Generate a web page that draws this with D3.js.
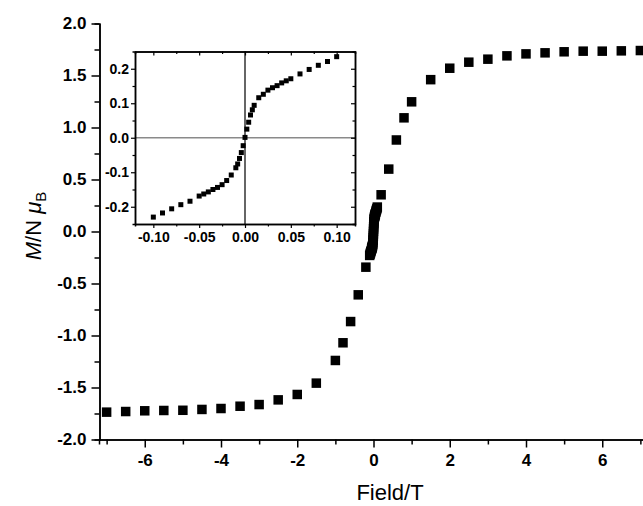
<!DOCTYPE html>
<html>
<head>
<meta charset="utf-8">
<script src="https://cdn.jsdelivr.net/npm/d3@7"></script>
<style>
html,body{margin:0;padding:0;background:#fff;}
svg{display:block;font-family:"Liberation Sans",Arial,sans-serif;}
</style>
</head>
<body>
<svg id="chart" width="643" height="506"></svg>
<script>
// Main plot data (field in T, M/N muB)
const fieldMain = [-7,-6.5,-6,-5.5,-5,-4.5,-4,-3.5,-3,-2.5,-2,-1.5,-1,-0.8,-0.6,-0.4,-0.2,0.2,0.4,0.6,0.8,1,1.5,2,2.5,3,3.5,4,4.5,5,5.5,6,6.5,7];
const momentMain = [-1.737,-1.731,-1.724,-1.721,-1.719,-1.711,-1.702,-1.68,-1.664,-1.619,-1.567,-1.458,-1.24,-1.07,-0.866,-0.609,-0.343,0.353,0.60,0.88,1.093,1.247,1.46,1.57,1.628,1.657,1.689,1.708,1.718,1.728,1.734,1.734,1.737,1.74];
// Low-field data (inset)
const fieldLow = [-0.1,-0.09,-0.08,-0.07,-0.06,-0.05,-0.045,-0.04,-0.035,-0.03,-0.025,-0.02,-0.015,-0.01,-0.008,-0.006,-0.004,-0.002,0,0.002,0.004,0.006,0.008,0.01,0.015,0.02,0.025,0.03,0.035,0.04,0.045,0.05,0.06,0.07,0.08,0.09,0.1];
const momentLow = [-0.230,-0.218,-0.206,-0.194,-0.184,-0.169,-0.163,-0.157,-0.150,-0.144,-0.136,-0.124,-0.108,-0.087,-0.076,-0.060,-0.043,-0.023,0.001,0.025,0.045,0.066,0.081,0.094,0.116,0.126,0.138,0.145,0.151,0.159,0.165,0.171,0.185,0.198,0.210,0.221,0.235];
// Tick values
const xTicksMain = [-6,-4,-2,0,2,4,6];
const xMinorMain = [-7,-5,-3,-1,1,3,5,7];
const yTicksMain = [-2,-1.5,-1,-0.5,0,0.5,1,1.5,2];
const yMinorMain = [-1.75,-1.25,-0.75,-0.25,0.25,0.75,1.25,1.75];
const xTicksInset = [-0.1,-0.05,0,0.05,0.1];
const xMinorInset = [-0.075,-0.025,0.025,0.075];
const yTicksInset = [-0.2,-0.1,0,0.1,0.2];
const yMinorInset = [-0.15,-0.05,0.05,0.15];

const hy = f => (d => f(d).replace("\u2212","-"));

const svg = d3.select("#chart");
const x = d3.scaleLinear().domain([-7.2,7.2]).range([99,648]);
const y = d3.scaleLinear().domain([-2,2]).range([439.5,23.5]);

const allField = fieldMain.concat(fieldLow);
const allMoment = momentMain.concat(momentLow);

// axes
const gx = svg.append("g").attr("transform","translate(0,439.5)");
gx.call(d3.axisBottom(x).tickValues(xTicksMain).tickSize(8).tickSizeOuter(0).tickFormat(hy(d3.format("d"))));
gx.append("g").call(d3.axisBottom(x).tickValues(xMinorMain).tickSize(5).tickFormat(""));
const gy = svg.append("g").attr("transform","translate(99.5,0)");
gy.call(d3.axisLeft(y).tickValues(yTicksMain).tickSize(8).tickSizeOuter(0).tickFormat(hy(d3.format(".1f"))));
gy.append("g").call(d3.axisLeft(y).tickValues(yMinorMain).tickSize(5).tickFormat(""));
[gx,gy].forEach(g=>{
  g.selectAll("path.domain").attr("stroke","#000").attr("stroke-width",1.5);
  g.selectAll(".tick line").attr("stroke","#000").attr("stroke-width",1.5);
  g.selectAll(".tick text").attr("font-size",17).attr("font-weight","bold").attr("fill","#000")
   .attr("font-family","'Liberation Sans',Arial,sans-serif");
});
gx.selectAll(".tick text").attr("dy","0.95em").attr("y",10);
gy.selectAll(".tick text").attr("x",-13);

// main points
const ms = 9.5;
svg.append("g").selectAll("rect").data(d3.range(allField.length)).join("rect")
  .attr("x",i=>x(allField[i])-ms/2).attr("y",i=>y(allMoment[i])-ms/2)
  .attr("width",ms).attr("height",ms).attr("fill","#000");

// labels
svg.append("text").attr("x",390).attr("y",500).attr("text-anchor","middle")
  .attr("font-size",22).attr("fill","#000").text("Field/T");
const yl = svg.append("text").attr("transform","translate(41,226) rotate(-90)")
  .attr("text-anchor","middle").attr("font-size",22).attr("fill","#000");
yl.append("tspan").attr("font-style","italic").text("M");
yl.append("tspan").text("/N ");
yl.append("tspan").attr("font-style","italic").text("\u03BC");
yl.append("tspan").attr("font-size",15).attr("dy",5).text("B");

// inset
const ix = d3.scaleLinear().domain([-0.12,0.12]).range([135,355]);
const iy = d3.scaleLinear().domain([-0.25,0.25]).range([224,51.5]);
const inset = svg.append("g");
inset.append("rect").attr("x",135).attr("y",51.5).attr("width",220).attr("height",172.5)
  .attr("fill","#fff").attr("stroke","none");
inset.append("line").attr("x1",ix(-0.12)).attr("x2",ix(0.12)).attr("y1",iy(0)).attr("y2",iy(0))
  .attr("stroke","#8a8a8a").attr("stroke-width",1.5);
inset.append("line").attr("x1",ix(0)).attr("x2",ix(0)).attr("y1",iy(-0.25)).attr("y2",iy(0.25))
  .attr("stroke","#333").attr("stroke-width",1.5);

const ibx = inset.append("g").attr("transform","translate(0,224)");
ibx.call(d3.axisBottom(ix).tickValues(xTicksInset).tickSize(4).tickSizeOuter(0).tickFormat(hy(d3.format(".2f"))));
ibx.append("g").call(d3.axisBottom(ix).tickValues(xMinorInset).tickSize(2.5).tickFormat(""));
const itx = inset.append("g").attr("transform","translate(0,51.5)");
itx.call(d3.axisBottom(ix).tickValues(xTicksInset).tickSize(4).tickSizeOuter(0).tickFormat(""));
itx.append("g").call(d3.axisBottom(ix).tickValues(xMinorInset).tickSize(2.5).tickFormat(""));
const ily = inset.append("g").attr("transform","translate(135,0)");
ily.call(d3.axisLeft(iy).tickValues(yTicksInset).tickSize(4).tickSizeOuter(0).tickFormat(hy(d3.format(".1f"))));
ily.append("g").call(d3.axisLeft(iy).tickValues(yMinorInset).tickSize(2.5).tickFormat(""));
const iry = inset.append("g").attr("transform","translate(355,0)");
iry.call(d3.axisLeft(iy).tickValues(yTicksInset).tickSize(4).tickSizeOuter(0).tickFormat(""));
iry.append("g").call(d3.axisLeft(iy).tickValues(yMinorInset).tickSize(2.5).tickFormat(""));
[ibx,itx,ily,iry].forEach(g=>{
  g.selectAll("path.domain").attr("stroke","#000").attr("stroke-width",1.5);
  g.selectAll(".tick line").attr("stroke","#000").attr("stroke-width",1.2);
  g.selectAll(".tick text").attr("font-size",14).attr("font-weight","bold").attr("fill","#000")
   .attr("font-family","'Liberation Sans',Arial,sans-serif");
});
ibx.selectAll(".tick text").attr("y",8);
ily.selectAll(".tick text").attr("x",-6);

const is = 5;
inset.append("g").selectAll("rect").data(d3.range(fieldLow.length)).join("rect")
  .attr("x",i=>ix(fieldLow[i])-is/2).attr("y",i=>iy(momentLow[i])-is/2)
  .attr("width",is).attr("height",is).attr("fill","#000");
</script>
</body>
</html>
